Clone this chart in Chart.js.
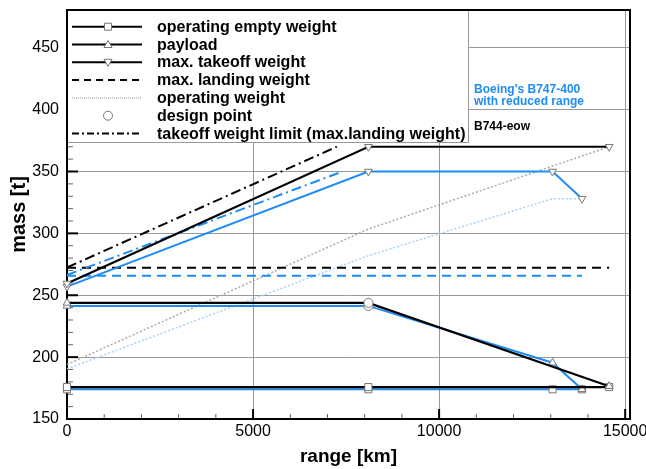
<!DOCTYPE html>
<html>
<head>
<meta charset="utf-8">
<script src="https://cdn.jsdelivr.net/npm/chart.js"></script>
<style>
  body { margin: 0; background: #fff; }
  #wrap { position: relative; width: 646px; height: 469px; font-family: "Liberation Sans", Arial, sans-serif; }
  #wrap canvas { position: absolute; left: 0; top: 0; }
  .leg { position: absolute; left: 157px; height: 18px; line-height: 18px; font-size: 16px; font-weight: bold; color: #000; white-space: nowrap; }
  .note { position: absolute; left: 474px; font-size: 12px; line-height: 12px; font-weight: bold; white-space: nowrap; }
</style>
</head>
<body>
<div id="wrap">
  <canvas id="chart" width="646" height="469"></canvas>
  <div class="note" style="top:83px;color:#1e8cf5">Boeing's B747-400<br>with reduced range</div>
  <div class="note" style="top:120px;color:#000">B744-eow</div>
</div>

<script>
// B744-eow (black)
var eowRange = [0, 8100, 14570];
var eowOEW = [175.8, 175.8, 175.8];
var eowPayload = [243.8, 243.8, 176.5];
var eowMTOW = [259.5, 370, 370];
var eowOpWeight = [194, 303.5, 370];
var eowMLWRange = [0, 14570];
var eowMLW = [272.2, 272.2];
var eowLimitRange = [0, 7250];
var eowLimit = [272.4, 370];
var eowDesign = [8100, 243.8];

// B747-400 with reduced range (blue)
var b747Range = [0, 8100, 13050, 13840];
var b747OEW = [174, 174, 174, 174];
var b747Payload = [241.4, 241.4, 195.5, 174];
var b747MTOW = [257, 350, 350, 328];
var b747OpWeight = [190.5, 282, 328, 328];
var b747MLWRange = [0, 13840];
var b747MLW = [265.8, 265.8];
var b747LimitRange = [0, 7400];
var b747Limit = [266.4, 350];
var b747Design = [8100, 241.4];

var xTicks = [0, 5000, 10000, 15000];
var yTicks = [150, 200, 250, 300, 350, 400, 450];

var legendLabels = ['operating empty weight', 'payload', 'max. takeoff weight', 'max. landing weight',
  'operating weight', 'design point', 'takeoff weight limit (max.landing weight)'];

var blue = '#1e8cf5';
var lightBlue = '#a9d2fa';
var dashed = [9, 6];
var dashDot = [10, 4, 2, 4];
var dotted = [2, 2];

function pts(xs, ys) {
  return xs.map(function (x, i) { return { x: x, y: ys[i] }; });
}

function line(data, color, width, dash, marker, rotation) {
  return {
    data: data,
    borderColor: color,
    borderWidth: width,
    borderDash: dash || [],
    pointStyle: marker || 'circle',
    pointRadius: marker ? (marker === 'rect' ? 5 : 4.5) : 0,
    pointRotation: rotation || 0,
    pointBackgroundColor: '#fff',
    pointBorderColor: '#777',
    pointBorderWidth: 1,
    clip: false
  };
}

// legend text
var wrap = document.getElementById('wrap');
legendLabels.forEach(function (t, i) {
  var d = document.createElement('div');
  d.className = 'leg';
  d.style.top = (26.7 + 17.8 * i - 9) + 'px';
  d.textContent = t;
  wrap.appendChild(d);
});

function drawMarker(ctx, style, x, y) {
  ctx.save();
  ctx.setLineDash([]);
  ctx.fillStyle = '#fff';
  ctx.strokeStyle = '#777';
  ctx.lineWidth = 1;
  ctx.beginPath();
  if (style === 'rect') {
    ctx.rect(x - 3.5, y - 3.5, 7, 7);
  } else if (style === 'up') {
    ctx.moveTo(x, y - 4); ctx.lineTo(x + 4, y + 3); ctx.lineTo(x - 4, y + 3); ctx.closePath();
  } else if (style === 'down') {
    ctx.moveTo(x, y + 4); ctx.lineTo(x + 4, y - 3); ctx.lineTo(x - 4, y - 3); ctx.closePath();
  } else {
    ctx.arc(x, y, 4.5, 0, Math.PI * 2);
  }
  ctx.fill();
  ctx.stroke();
  ctx.restore();
}

var frameAndLegend = {
  id: 'frameAndLegend',
  beforeDatasetsDraw: function (chart) {
    var ctx = chart.ctx, a = chart.chartArea, x = chart.scales.x, y = chart.scales.y;
    ctx.save();
    // minor and major ticks, pointing inwards
    for (var v = 0; v <= 15000; v += 1000) {
      var px = x.getPixelForValue(v), major = v % 5000 === 0;
      ctx.strokeStyle = major ? '#000' : '#666';
      ctx.lineWidth = major ? 2 : 1;
      ctx.beginPath(); ctx.moveTo(px, a.bottom); ctx.lineTo(px, a.bottom - (major ? 10 : 5)); ctx.stroke();
    }
    for (var m = 150; m <= 480; m += 10) {
      var py = y.getPixelForValue(m), maj = m % 50 === 0;
      ctx.strokeStyle = maj ? '#000' : '#666';
      ctx.lineWidth = maj ? 2 : 1;
      ctx.beginPath(); ctx.moveTo(a.left, py); ctx.lineTo(a.left + (maj ? 11 : 6), py); ctx.stroke();
    }
    // legend box
    ctx.fillStyle = '#fff';
    ctx.fillRect(a.left, a.top, 402, 133);
    ctx.strokeStyle = '#999';
    ctx.lineWidth = 1;
    ctx.strokeRect(a.left + 0.5, a.top + 0.5, 401, 132);
    // frame
    ctx.strokeStyle = '#000';
    ctx.lineWidth = 2;
    ctx.strokeRect(a.left, a.top, a.right - a.left, a.bottom - a.top);
    // legend samples
    var samples = [
      { dash: [], color: '#000', w: 2, mk: 'rect' },
      { dash: [], color: '#000', w: 2, mk: 'up' },
      { dash: [], color: '#000', w: 2, mk: 'down' },
      { dash: [7, 5], color: '#000', w: 2 },
      { dash: [1, 1], color: '#bbb', w: 1.5 },
      { none: true, mk: 'circle' },
      { dash: [7, 3, 2, 3], color: '#000', w: 2 }
    ];
    samples.forEach(function (s, i) {
      var ry = 26.7 + 17.8 * i;
      if (!s.none) {
        ctx.setLineDash(s.dash);
        ctx.strokeStyle = s.color;
        ctx.lineWidth = s.w;
        ctx.beginPath(); ctx.moveTo(72, ry); ctx.lineTo(142, ry); ctx.stroke();
      }
      if (s.mk) drawMarker(ctx, s.mk, 108, ry);
    });
    ctx.restore();
  }
};

Chart.defaults.font.family = '"Liberation Sans", Arial, sans-serif';
Chart.defaults.color = '#000';

// listed bottom-to-top, then reversed because Chart.js paints the first dataset last
var datasets = [
  line(pts(b747Range, b747OpWeight), lightBlue, 1.5, dotted),
  line(pts(eowRange, eowOpWeight), '#aaa', 1.5, dotted),
  line(pts(b747MLWRange, b747MLW), blue, 2, dashed),
  line(pts(eowMLWRange, eowMLW), '#000', 2, dashed),
  line(pts(b747LimitRange, b747Limit), blue, 2, dashDot),
  line(pts(eowLimitRange, eowLimit), '#000', 2, dashDot),
  line(pts(b747Range, b747OEW), blue, 2, null, 'rect'),
  line(pts(b747Range, b747Payload), blue, 2, null, 'triangle'),
  line(pts(b747Range, b747MTOW), blue, 2, null, 'triangle', 180),
  line(pts(eowRange, eowOEW), '#000', 2.2, null, 'rect'),
  line(pts(eowRange, eowPayload), '#000', 2.2, null, 'triangle'),
  line(pts(eowRange, eowMTOW), '#000', 2.2, null, 'triangle', 180),
  Object.assign(line([{ x: b747Design[0], y: b747Design[1] }], blue, 0, null, 'circle'), { showLine: false }),
  Object.assign(line([{ x: eowDesign[0], y: eowDesign[1] }], '#000', 0, null, 'circle'), { showLine: false })
].reverse();

new Chart(document.getElementById('chart').getContext('2d'), {
  type: 'line',
  data: { datasets: datasets },
  options: {
    responsive: false,
    animation: false,
    layout: { padding: { left: 0, right: 16, top: 10, bottom: 0 } },
    plugins: { legend: { display: false }, tooltip: { enabled: false } },
    scales: {
      x: {
        type: 'linear',
        min: 0,
        max: 15130,
        afterBuildTicks: function (s) { s.ticks = xTicks.map(function (v) { return { value: v }; }); },
        afterFit: function (s) { s.height = 50; s.paddingLeft = 0; s.paddingRight = 0; },
        grid: { color: '#999', lineWidth: 1, drawTicks: false },
        border: { display: false },
        ticks: { padding: 3, maxRotation: 0, autoSkip: false, font: { size: 16 },
          callback: function (v) { return String(v); } },
        title: { display: true, text: 'range [km]', font: { size: 19, weight: 'bold' }, padding: { top: 0, bottom: 1 } }
      },
      y: {
        min: 150,
        max: 480.5,
        afterBuildTicks: function (s) { s.ticks = yTicks.map(function (v) { return { value: v }; }); },
        afterFit: function (s) { s.width = 67; s.paddingTop = 0; s.paddingBottom = 0; },
        grid: { color: '#999', lineWidth: 1, drawTicks: false },
        border: { display: false },
        ticks: { padding: 8, autoSkip: false, font: { size: 16 },
          callback: function (v) { return String(v); } },
        title: { display: true, text: 'mass [t]', font: { size: 20, weight: 'bold' }, padding: { top: 7, bottom: 0 } }
      }
    }
  },
  plugins: [frameAndLegend]
});
</script>
</body>
</html>
